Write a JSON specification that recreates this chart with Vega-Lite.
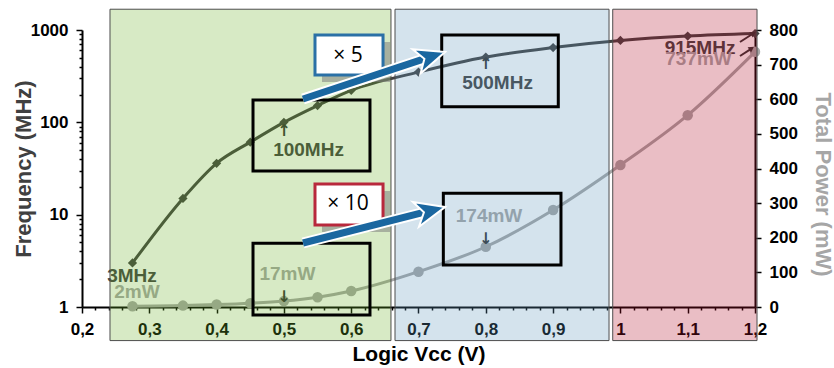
{
  "$schema": "https://vega.github.io/schema/vega-lite/v6.json",
  "width": 673,
  "height": 277,
  "autosize": "none",
  "padding": {"left": 82, "top": 30, "right": 79, "bottom": 61},
  "config": {"view": {"stroke": null}, "font": "Liberation Sans"},
  "datasets": {
    "freq": [
      {"x": 0.275, "f": 3}, {"x": 0.35, "f": 15}, {"x": 0.4, "f": 36}, {"x": 0.45, "f": 61},
      {"x": 0.5, "f": 100}, {"x": 0.55, "f": 152}, {"x": 0.6, "f": 222}, {"x": 0.7, "f": 350},
      {"x": 0.8, "f": 510}, {"x": 0.9, "f": 646}, {"x": 1.0, "f": 770}, {"x": 1.1, "f": 860},
      {"x": 1.2, "f": 915}
    ],
    "power": [
      {"x": 0.275, "p": 2}, {"x": 0.35, "p": 4}, {"x": 0.4, "p": 7}, {"x": 0.45, "p": 11},
      {"x": 0.5, "p": 17}, {"x": 0.55, "p": 28}, {"x": 0.6, "p": 46}, {"x": 0.7, "p": 102},
      {"x": 0.8, "p": 174}, {"x": 0.9, "p": 280}, {"x": 1.0, "p": 410}, {"x": 1.1, "p": 554},
      {"x": 1.2, "p": 737}
    ],
    "flabels": [
      {"x": 0.2743, "p": 89.5, "t": "3MHz"},
      {"x": 0.5366, "p": 452, "t": "100MHz"},
      {"x": 0.8174, "p": 648, "t": "500MHz"},
      {"x": 1.1183, "p": 748, "t": "915MHz"}
    ],
    "plabels": [
      {"x": 0.2817, "p": 43.3, "t": "2mW"},
      {"x": 0.5053, "p": 95.3, "t": "17mW"},
      {"x": 0.8048, "p": 264, "t": "174mW"},
      {"x": 1.116, "p": 715, "t": "737mW"}
    ],
    "vglyphs": [
      {"x": 0.5, "p": 508, "t": "↑"},
      {"x": 0.8, "p": 703, "t": "↑"},
      {"x": 0.5, "p": 29, "t": "↓"},
      {"x": 0.8, "p": 196, "t": "↓"}
    ],
    "tiny": [
      {"x": 1.1777, "p": 765.3, "x2": 1.195, "p2": 787},
      {"x": 1.1777, "p": 724.9, "x2": 1.193, "p2": 744}
    ],
    "tinyheads": [
      {"x": 1.1975, "p": 790},
      {"x": 1.1950, "p": 747}
    ],
    "regions": [
      {"r": "low", "x": 0.2416, "x2": 0.6591, "p": -97, "p2": 860},
      {"r": "mid", "x": 0.6651, "x2": 0.9831, "p": -97, "p2": 860},
      {"r": "high", "x": 0.9886, "x2": 1.203, "p": -97, "p2": 860}
    ],
    "boxes": [
      {"x": 0.4541, "x2": 0.6279, "p": 392.8, "p2": 597.8},
      {"x": 0.4541, "x2": 0.6279, "p": -23.1, "p2": 183.9},
      {"x": 0.7345, "x2": 0.9077, "p": 578.4, "p2": 785.6},
      {"x": 0.7369, "x2": 0.9117, "p": 121.3, "p2": 328.4}
    ],
    "shadows": [
      {"x": 0.5566, "x2": 0.6577, "p": 649.8, "p2": 765.4},
      {"x": 0.5566, "x2": 0.6577, "p": 216.6, "p2": 335}
    ],
    "xboxes": [
      {"k": "x5", "x": 0.5462, "x2": 0.6473, "p": 670, "p2": 785.6},
      {"k": "x10", "x": 0.5462, "x2": 0.6473, "p": 236.8, "p2": 355.2}
    ],
    "xtext": [
      {"x": 0.5952, "p": 725, "t": "× 5"},
      {"x": 0.5952, "p": 297.5, "t": "× 10"}
    ],
    "arrows": [
      {"a": 1, "x": 0.5284, "p": 600.7, "x2": 0.7183, "p2": 722.9},
      {"a": 2, "x": 0.5284, "p": 184.8, "x2": 0.7178, "p2": 278.1}
    ],
    "heads": [
      {"a": 1, "x": 0.7183, "p": 722.9},
      {"a": 2, "x": 0.7178, "p": 278.1}
    ]
  },
  "encoding": {
    "x": {
      "field": "x",
      "type": "quantitative",
      "scale": {"domain": [0.2, 1.2], "nice": false, "zero": false},
      "axis": {
        "orient": "bottom",
        "title": "Logic Vcc (V)",
        "titleFontSize": 21,
        "titleFontWeight": "bold",
        "titleColor": "#000000",
        "titleBaseline": "alphabetic",
        "titleY": 53,
        "values": [0.2,0.22,0.24,0.26,0.28,0.3,0.32,0.34,0.36,0.38,0.4,0.42,0.44,0.46,0.48,0.5,0.52,0.54,0.56,0.58,0.6,0.62,0.64,0.66,0.68,0.7,0.72,0.74,0.76,0.78,0.8,0.82,0.84,0.86,0.88,0.9,0.92,0.94,0.96,0.98,1,1.02,1.04,1.06,1.08,1.1,1.12,1.14,1.16,1.18,1.2],
        "labelExpr": "abs(datum.value*10-round(datum.value*10))<0.001 ? replace(format(datum.value,'~g'),'.',',') : ''",
        "tickSize": {"condition": {"test": "abs(datum.value*10-round(datum.value*10))<0.001", "value": 6}, "value": 3},
        "tickColor": "#000000",
        "tickWidth": 1.5,
        "domainColor": "#000000",
        "domainWidth": 2,
        "labelFontSize": 17,
        "labelFontWeight": "bold",
        "labelColor": "#000000",
        "labelPadding": 8,
        "labelOverlap": false,
        "labelFlush": false,
        "labelBound": false,
        "grid": false
      }
    }
  },
  "layer": [
    {
      "data": {"name": "freq"},
      "encoding": {
        "y": {
          "field": "f",
          "type": "quantitative",
          "scale": {"type": "log", "domain": [1, 1000], "nice": false},
          "axis": {
            "orient": "left",
            "title": "Frequency (MHz)",
            "titleFontSize": 22,
            "titleFontWeight": "bold",
            "titleColor": "#404040",
            "titleAngle": -90,
            "titleBaseline": "bottom",
            "titleAlign": "center",
            "titleX": -47,
            "titleY": 138.5,
            "values": [1,2,3,4,5,6,7,8,9,10,20,30,40,50,60,70,80,90,100,200,300,400,500,600,700,800,900,1000],
            "labelExpr": "(datum.value==1||datum.value==10||datum.value==100||datum.value==1000) ? format(datum.value,'d') : ''",
            "tickSize": {"condition": {"test": "datum.value==1||datum.value==10||datum.value==100||datum.value==1000", "value": 6}, "value": 3},
            "tickColor": "#000000",
            "tickWidth": 1.5,
            "domainColor": "#000000",
            "domainWidth": 2,
            "labelFontSize": 17,
            "labelFontWeight": "bold",
            "labelColor": "#000000",
            "labelPadding": 8,
            "labelOverlap": false,
            "labelFlush": false,
            "grid": false
          }
        }
      },
      "layer": [
        {"mark": {"type": "line", "interpolate": "monotone", "color": "#404040", "strokeWidth": 3}},
        {"mark": {"type": "point", "shape": "diamond", "filled": true, "color": "#404040", "size": 85, "opacity": 1}}
      ]
    },
    {
      "data": {"name": "power"},
      "encoding": {
        "y": {
          "field": "p",
          "type": "quantitative",
          "scale": {"domain": [0, 800], "nice": false, "zero": false},
          "axis": {
            "orient": "right",
            "title": "Total Power (mW)",
            "titleFontSize": 22,
            "titleFontWeight": "bold",
            "titleColor": "#a6a6a6",
            "titleAngle": 90,
            "titleBaseline": "bottom",
            "titleAlign": "center",
            "titleX": 55,
            "titleY": 154,
            "values": [0,100,200,300,400,500,600,700,800],
            "tickSize": 6,
            "tickColor": "#000000",
            "tickWidth": 1.5,
            "domainColor": "#000000",
            "domainWidth": 2,
            "labelFontSize": 17,
            "labelFontWeight": "bold",
            "labelColor": "#000000",
            "labelPadding": 8,
            "labelOverlap": false,
            "labelFlush": false,
            "grid": false
          }
        }
      },
      "layer": [
        {"mark": {"type": "line", "interpolate": "monotone", "color": "#a6a6a6", "strokeWidth": 3}},
        {"mark": {"type": "point", "shape": "circle", "filled": true, "color": "#a6a6a6", "size": 110, "opacity": 1}}
      ]
    },
    {
      "encoding": {
        "y": {"field": "p", "type": "quantitative", "scale": {"domain": [0, 800], "nice": false, "zero": false}, "axis": null}
      },
      "layer": [
        {
          "data": {"name": "flabels"},
          "mark": {"type": "text", "font": "Liberation Sans", "fontWeight": "bold", "fontSize": 19, "color": "#404040", "baseline": "middle", "align": "center"},
          "encoding": {"text": {"field": "t"}}
        },
        {
          "data": {"name": "plabels"},
          "mark": {"type": "text", "font": "Liberation Sans", "fontWeight": "bold", "fontSize": 19, "color": "#a6a6a6", "baseline": "middle", "align": "center"},
          "encoding": {"text": {"field": "t"}}
        },
        {
          "data": {"name": "vglyphs"},
          "mark": {"type": "text", "font": "DejaVu Sans", "fontWeight": "bold", "fontSize": 16, "color": "#303030", "baseline": "middle", "align": "center"},
          "encoding": {"text": {"field": "t"}}
        },
        {
          "data": {"name": "tiny"},
          "mark": {"type": "rule", "color": "#303030", "strokeWidth": 2},
          "encoding": {"x2": {"field": "x2"}, "y2": {"field": "p2"}}
        },
        {
          "data": {"name": "tinyheads"},
          "mark": {"type": "point", "shape": "triangle-right", "filled": true, "color": "#303030", "size": 40, "angle": -33, "opacity": 1}
        }
      ]
    },
    {
      "data": {"name": "regions"},
      "mark": {"type": "rect", "fillOpacity": 0.27, "stroke": "#4d4d4d", "strokeWidth": 1},
      "encoding": {
        "x2": {"field": "x2"},
        "y": {"field": "p", "type": "quantitative", "scale": {"domain": [0, 800], "nice": false, "zero": false}, "axis": null},
        "y2": {"field": "p2"},
        "color": {"field": "r", "type": "nominal", "scale": {"domain": ["low", "mid", "high"], "range": ["#6cb12a", "#6096bc", "#b0102a"]}, "legend": null}
      }
    },
    {
      "encoding": {
        "y": {"field": "p", "type": "quantitative", "scale": {"domain": [0, 800], "nice": false, "zero": false}, "axis": null}
      },
      "layer": [
        {
          "data": {"name": "boxes"},
          "mark": {"type": "rect", "filled": false, "color": "#000000", "strokeWidth": 3},
          "encoding": {"x2": {"field": "x2"}, "y2": {"field": "p2"}}
        },
        {
          "data": {"name": "shadows"},
          "mark": {"type": "rect", "color": "#7f7f7f", "opacity": 0.55},
          "encoding": {"x2": {"field": "x2"}, "y2": {"field": "p2"}}
        },
        {
          "data": {"name": "xboxes"},
          "mark": {"type": "rect", "fill": "#ffffff", "strokeWidth": 3},
          "encoding": {
            "x2": {"field": "x2"},
            "y2": {"field": "p2"},
            "stroke": {"field": "k", "type": "nominal", "scale": {"domain": ["x5", "x10"], "range": ["#2a70a6", "#b8283c"]}, "legend": null}
          }
        },
        {
          "data": {"name": "xtext"},
          "mark": {"type": "text", "font": "Open Sans", "fontSize": 21, "color": "#000000", "baseline": "middle", "align": "center"},
          "encoding": {"text": {"field": "t"}}
        },
        {
          "data": {"name": "arrows"},
          "mark": {"type": "rule", "color": "#ffffff", "strokeWidth": 11},
          "encoding": {"x2": {"field": "x2"}, "y2": {"field": "p2"}}
        },
        {
          "data": {"name": "arrows"},
          "mark": {"type": "rule", "color": "#1a67a0", "strokeWidth": 7},
          "encoding": {"x2": {"field": "x2"}, "y2": {"field": "p2"}}
        },
        {
          "data": {"name": "heads"},
          "transform": [{"filter": "datum.a == 1"}],
          "mark": {"type": "point", "shape": "M 1 0 L -1 -0.85 L -0.45 0 L -1 0.85 Z", "filled": true, "fill": "#1a67a0", "stroke": "#ffffff", "strokeWidth": 2, "size": 900, "angle": -18.3, "opacity": 1}
        },
        {
          "data": {"name": "heads"},
          "transform": [{"filter": "datum.a == 2"}],
          "mark": {"type": "point", "shape": "M 1 0 L -1 -0.85 L -0.45 0 L -1 0.85 Z", "filled": true, "fill": "#1a67a0", "stroke": "#ffffff", "strokeWidth": 2, "size": 900, "angle": -13.9, "opacity": 1}
        }
      ]
    }
  ],
  "resolve": {"scale": {"y": "independent"}}
}
